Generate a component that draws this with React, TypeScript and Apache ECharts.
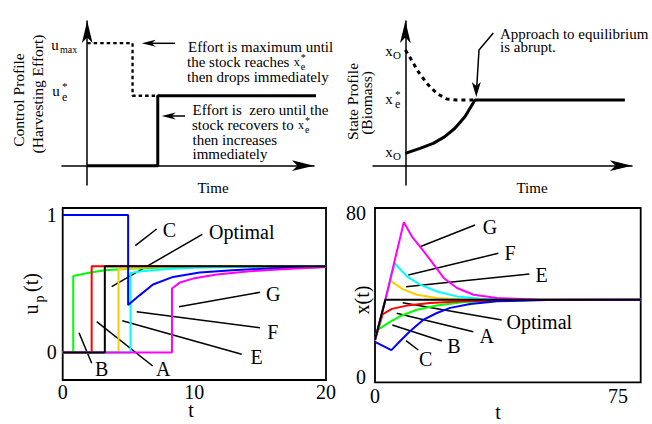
import React, { useEffect, useRef } from 'react';
import * as echarts from 'echarts';

const FONT = '"Liberation Serif", "Times New Roman", serif';

// ---- Top-left schematic: control profile (harvesting effort) ----
const ctrlMaxEffort = [[0, 1.27], [1.8, 1.27], [1.8, 0.725], [2.8, 0.725]];
const ctrlOptimal = [[0, 0], [2.8, 0], [2.8, 0.725], [9.15, 0.725]];

// ---- Top-right schematic: state profile (biomass) ----
const stateHigh = [[0, 1.199], [0.19, 1.095], [0.4, 0.974], [0.66, 0.854], [0.97, 0.75], [1.28, 0.691], [1.58, 0.681], [2.15, 0.681]];
const stateLow = [[0, 0.128], [0.45, 0.18], [0.86, 0.232], [1.22, 0.301], [1.53, 0.388], [1.84, 0.508], [2.15, 0.681], [6.78, 0.681]];

// ---- Bottom-left: u_p(t) ----
const uB = [[0, 0], [0.8, 0], [0.8, 0.556], [2, 0.58], [3.2, 0.597], [5, 0.608], [6.6, 0.614], [9, 0.621], [13, 0.625], [20, 0.627]];
const uA = [[0, 0], [2.2, 0], [2.2, 0.627], [20, 0.627]];
const uE = [[0, 0], [4.24, 0], [4.24, 0.605], [5, 0.613], [6.5, 0.62], [9, 0.625], [20, 0.627]];
const uF = [[0, 0], [5.15, 0], [5.15, 0.578], [6, 0.59], [8, 0.606], [10, 0.615], [13, 0.622], [20, 0.627]];
const uC = [[0, 1], [4.97, 1], [4.97, 0.345], [5.86, 0.417], [6.86, 0.494], [8.38, 0.549], [10.4, 0.581], [12.9, 0.598], [16, 0.612], [20, 0.622]];
const uG = [[0, 0], [8.3, 0], [8.3, 0.465], [8.9, 0.508], [9.9, 0.537], [11.7, 0.566], [14.2, 0.59], [16.7, 0.605], [20, 0.622]];
const uOptimal = [[0, 0], [3.2, 0], [3.2, 0.627], [20, 0.627]];

// ---- Bottom-right: x(t) ----
const xB = [[0, 18], [0.93, 23.2], [4.1, 26.5], [7.7, 29.7], [12.9, 32.9], [19.1, 35.0], [27.4, 36.7], [37.7, 37.3], [55, 37.7], [82, 37.8]];
const xA = [[0, 18], [2.4, 30.8], [5.2, 33.3], [9.8, 34.9], [17, 36.2], [27.2, 37.0], [47.8, 37.6], [82, 37.8]];
const xE = [[0, 18], [3.2, 37.8], [4.75, 47], [8.8, 42.7], [12.9, 40.2], [19.1, 38.6], [27.4, 37.9], [82, 37.8]];
const xF = [[0, 18], [3.2, 37.8], [6.1, 55.5], [9.8, 49.2], [13.9, 45.1], [19.1, 41.8], [25.3, 39.4], [32.5, 38.3], [45, 37.9], [82, 37.8]];
const xC = [[0, 17.2], [5.05, 13.2], [7.7, 17.5], [10.8, 22.4], [15, 28.1], [19.1, 31.3], [23.2, 33.8], [29.4, 35.7], [37.7, 37.0], [53.2, 37.6], [82, 37.8]];
const xG = [[0, 18], [3.2, 37.8], [8.9, 75.6], [11.4, 68.6], [13.9, 63.7], [17, 57.3], [21.2, 48.4], [25.3, 43.5], [30.4, 40.2], [37.7, 38.6], [50, 37.9], [82, 37.8]];
const xOptimal = [[0, 18.2], [3.2, 37.8], [82, 37.8]];

// tick labels
const uTicksX = [0, 10, 20];
const uTicksY = [0, 1];
const xTicksX = [0, 75];
const xTicksY = [0, 80];

const COLORS = { A: '#FF0000', B: '#00FF00', C: '#0000FF', E: '#FFCC00', F: '#00FFFF', G: '#FF00FF', O: '#000000' };

export default function App() {
  const ref = useRef<HTMLDivElement>(null);
  useEffect(() => {
    document.body.style.margin = '0';
    const chart = echarts.init(ref.current!, null, { renderer: 'svg' });
    const ctx = document.createElement('canvas').getContext('2d')!;
    const measure = (s: string, size: number) => {
      ctx.font = `${size}px ${FONT}`;
      return ctx.measureText(s).width;
    };

    const txt = (text: string, x: number, y: number, size: number, align = 'left', rotation = 0): any => ({
      type: 'text', x, y, rotation, silent: true,
      style: {
        text, fontSize: size, fontFamily: FONT, fill: '#000',
        textAlign: align, textVerticalAlign: 'middle', align, verticalAlign: 'middle',
      },
    });
    const seg = (x1: number, y1: number, x2: number, y2: number, w = 1.5): any => ({
      type: 'line', silent: true, shape: { x1, y1, x2, y2 }, style: { stroke: '#000', lineWidth: w },
    });
    const headLeft = (tx: number, ty: number, L: number, w: number): any => ({
      type: 'polygon', silent: true,
      shape: { points: [[tx, ty], [tx + L, ty - w], [tx + L - 4, ty], [tx + L, ty + w]] },
      style: { fill: '#000' },
    });
    const headDown = (tx: number, ty: number, L: number, w: number): any => ({
      type: 'polygon', silent: true,
      shape: { points: [[tx, ty], [tx - w, ty - L], [tx, ty - L + 4], [tx + w, ty - L]] },
      style: { fill: '#000' },
    });
    // x with stacked * and e
    const xStar = (prefix: string, x: number, y: number): any[] => {
      const w0 = measure(prefix, 15);
      const wx = measure('x', 13);
      const out: any[] = [txt(prefix.trimEnd(), x, y, 15), txt('x', x + w0 + 0.5, y + 0.5, 12)];
      out.push(txt('*', x + w0 + wx + 1, y - 4, 10));
      out.push(txt('e', x + w0 + wx + 1, y + 4.5, 10));
      return out;
    };

    const graphics: any[] = [
      // top-left annotations
      txt('Effort is maximum until', 188, 46.5, 15),
      ...xStar('the stock reaches ', 187, 61.5),
      txt('then drops immediately', 187, 76.5, 15),
      seg(175, 43.3, 152, 43.3, 1.5), headLeft(141.7, 43.3, 14, 3.5),
      txt('Effort is  zero until the', 192.5, 110, 15),
      ...xStar('stock recovers to ', 192, 124.5),
      txt('then increases', 192.5, 139.5, 15),
      txt('immediately', 192.5, 153.5, 15),
      seg(185, 116, 172, 116, 1.5), headLeft(161.7, 116, 14, 3.5),
      txt('Time', 213, 188, 15, 'center'),
      txt('Control Profile', 18.5, 100, 15.5, 'center', Math.PI / 2),
      txt('(Harvesting Effort)', 37.5, 94, 15.5, 'center', Math.PI / 2),
      txt('u', 55, 45, 15, 'center'), txt('max', 60, 49, 10),
      txt('u', 56, 91, 15, 'center'), txt('*', 62, 85.5, 11), txt('e', 62, 96.5, 12),
      // top-right annotations
      txt('Approach to equilibrium', 500, 34, 15),
      txt('is abrupt.', 500, 46.5, 15),
      { type: 'polyline', silent: true, shape: { points: [[493.3, 33], [479, 50], [476.8, 86]] }, style: { stroke: '#000', lineWidth: 1.5, fill: 'none' } },
      headDown(476.3, 97, 15, 4.5),
      txt('Time', 532, 188, 15, 'center'),
      txt('State Profile', 352, 101.5, 15.5, 'center', Math.PI / 2),
      txt('(Biomass)', 366.5, 103, 15.5, 'center', Math.PI / 2),
      txt('x', 389, 51, 15, 'center'), txt('O', 397, 54.5, 11, 'center'),
      txt('x', 389, 99, 15, 'center'), txt('*', 395, 93.5, 11), txt('e', 395, 104, 12),
      txt('x', 389, 152, 15, 'center'), txt('O', 397, 155.5, 11, 'center'),
      // bottom-left annotations
      seg(135.3, 245.7, 156.7, 229), txt('C', 169.3, 230, 20, 'center'),
      seg(111.7, 286.7, 202.3, 234.3), txt('Optimal', 241.7, 232.3, 20, 'center'),
      seg(179, 306.7, 260, 292.3), txt('G', 273.3, 294.3, 20, 'center'),
      seg(136.7, 311.7, 260, 327.7), txt('F', 272.7, 331.7, 20, 'center'),
      seg(122.3, 320.7, 241.7, 354.3), txt('E', 256.7, 357.3, 20, 'center'),
      seg(96.7, 321.7, 152.7, 366), txt('A', 163.3, 369, 20, 'center'),
      seg(79, 332.7, 91.7, 363.3), txt('B', 101.7, 369, 20, 'center'),
      txt('t', 191, 410, 20, 'center'),
      txt('u', 31, 309.5, 20, 'center', Math.PI / 2),
      txt('p', 39, 299, 14, 'center', Math.PI / 2),
      txt('(t)', 31, 282.5, 20, 'center', Math.PI / 2),
      // bottom-right annotations
      seg(420, 246.7, 475, 225), txt('G', 490, 226.7, 20, 'center'),
      seg(408.3, 275, 498.3, 253.3), txt('F', 510, 253.3, 20, 'center'),
      seg(406, 286.7, 529.3, 274), txt('E', 541.7, 275, 20, 'center'),
      seg(402.7, 302.7, 501.7, 320), txt('Optimal', 539.3, 322.3, 20, 'center'),
      seg(396.7, 313.3, 473.3, 331.7), txt('A', 486.7, 335.7, 20, 'center'),
      seg(392.3, 325, 441.7, 341), txt('B', 454, 346, 20, 'center'),
      seg(406, 340.7, 418.3, 350), txt('C', 425.7, 359.3, 20, 'center'),
      txt('t', 498, 412, 20, 'center'),
      txt('x(t)', 361.5, 300, 20, 'center', Math.PI / 2),
    ];

    const arrowLine = { show: true, onZero: true, symbol: ['none', 'arrow'], symbolSize: [8, 22], lineStyle: { color: '#000', width: 1.5 } };
    const hidden = { axisLabel: { show: false }, axisTick: { show: false }, splitLine: { show: false } };
    const plotAxis = (custom: number[], margin: number) => ({
      axisLine: { show: false, onZero: false },
      axisTick: { show: false },
      splitLine: { show: false },
      axisLabel: { customValues: custom, fontSize: 20, fontFamily: FONT, color: '#000', margin, showMinLabel: true, showMaxLabel: true },
    });
    const line = (data: number[][], idx: number, color: string, width: number, dash?: number[]): any => ({
      type: 'line', data, xAxisIndex: idx, yAxisIndex: idx, symbol: 'none', showSymbol: false, silent: true,
      clip: false, lineStyle: { color, width, type: dash || 'solid' },
    });

    chart.setOption({
      animation: false,
      backgroundColor: '#fff',
      grid: [
        { left: 62, top: 21, width: 252, height: 164, show: false },
        { left: 373, top: 21, width: 259, height: 164, show: false },
        { left: 62.7, top: 208, width: 263.3, height: 172, show: true, borderColor: '#000', borderWidth: 1.8, backgroundColor: 'transparent' },
        { left: 375, top: 208, width: 265.7, height: 174.3, show: true, borderColor: '#000', borderWidth: 1.8, backgroundColor: 'transparent' },
      ],
      xAxis: [
        { gridIndex: 0, type: 'value', min: -1, max: 9, axisLine: arrowLine, ...hidden },
        { gridIndex: 1, type: 'value', min: -1, max: 7, axisLine: arrowLine, ...hidden },
        { gridIndex: 2, type: 'value', min: 0, max: 20, ...plotAxis(uTicksX, 2) },
        { gridIndex: 3, type: 'value', min: 0, max: 82, ...plotAxis(xTicksX, 4) },
      ],
      yAxis: [
        { gridIndex: 0, type: 'value', min: -0.2, max: 1.5, axisLine: arrowLine, ...hidden },
        { gridIndex: 1, type: 'value', min: -0.2, max: 1.5, axisLine: arrowLine, ...hidden },
        { gridIndex: 2, type: 'value', min: -0.2, max: 1.05, ...plotAxis(uTicksY, 6) },
        { gridIndex: 3, type: 'value', min: -2.5, max: 82.5, ...plotAxis(xTicksY, 9) },
      ],
      series: [
        line(ctrlMaxEffort, 0, '#000', 2.3, [3.5, 3]),
        line(ctrlOptimal, 0, '#000', 3),
        line(stateHigh, 1, '#000', 3, [4, 4]),
        line(stateLow, 1, '#000', 3),
        line(uB, 2, COLORS.B, 2),
        line(uA, 2, COLORS.A, 2),
        line(uE, 2, COLORS.E, 2),
        line(uF, 2, COLORS.F, 2),
        line(uC, 2, COLORS.C, 2),
        line(uG, 2, COLORS.G, 2),
        line(uOptimal, 2, COLORS.O, 2),
        line(xB, 3, COLORS.B, 2),
        line(xA, 3, COLORS.A, 2),
        line(xE, 3, COLORS.E, 2),
        line(xF, 3, COLORS.F, 2),
        line(xC, 3, COLORS.C, 2),
        line(xG, 3, COLORS.G, 2),
        line(xOptimal, 3, COLORS.O, 2),
      ],
      graphic: { elements: graphics },
    });
    return () => chart.dispose();
  }, []);
  return <div ref={ref} style={{ width: 652, height: 424 }} />;
}
